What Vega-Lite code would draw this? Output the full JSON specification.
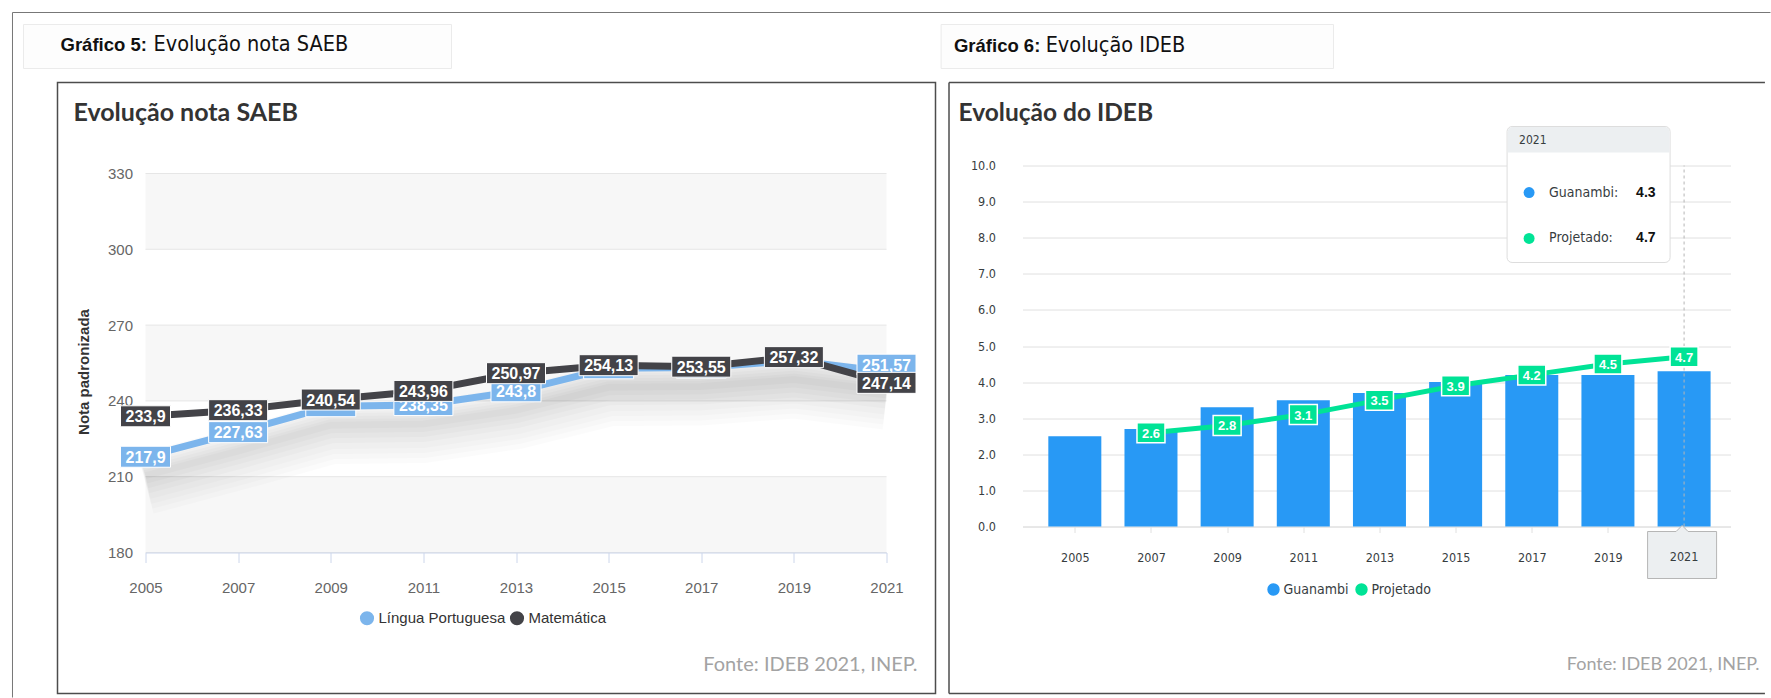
{
  "$schema": "https://vega.github.io/schema/vega-lite/v6.json",
  "background": "white",
  "padding": {"left": 11.5, "top": 11.5, "right": 0, "bottom": 0},
  "autosize": {"type": "pad"},
  "bounds": "flush",
  "spacing": 136,
  "config": {"view": {"stroke": null}, "font": "Liberation Sans"},
  "datasets": {
    "saeb": [
      {"ano": 2005, "disciplina": "Língua Portuguesa", "nota": 217.9},
      {"ano": 2007, "disciplina": "Língua Portuguesa", "nota": 227.63},
      {"ano": 2009, "disciplina": "Língua Portuguesa", "nota": 237.9},
      {"ano": 2011, "disciplina": "Língua Portuguesa", "nota": 238.35},
      {"ano": 2013, "disciplina": "Língua Portuguesa", "nota": 243.8},
      {"ano": 2015, "disciplina": "Língua Portuguesa", "nota": 252.9},
      {"ano": 2017, "disciplina": "Língua Portuguesa", "nota": 253.2},
      {"ano": 2019, "disciplina": "Língua Portuguesa", "nota": 256.0},
      {"ano": 2021, "disciplina": "Língua Portuguesa", "nota": 251.57},
      {"ano": 2005, "disciplina": "Matemática", "nota": 233.9},
      {"ano": 2007, "disciplina": "Matemática", "nota": 236.33},
      {"ano": 2009, "disciplina": "Matemática", "nota": 240.54},
      {"ano": 2011, "disciplina": "Matemática", "nota": 243.96},
      {"ano": 2013, "disciplina": "Matemática", "nota": 250.97},
      {"ano": 2015, "disciplina": "Matemática", "nota": 254.13},
      {"ano": 2017, "disciplina": "Matemática", "nota": 253.55},
      {"ano": 2019, "disciplina": "Matemática", "nota": 257.32},
      {"ano": 2021, "disciplina": "Matemática", "nota": 247.14}
    ],
    "faixas": [
      {"lo": 180, "hi": 210},
      {"lo": 240, "hi": 270},
      {"lo": 300, "hi": 330}
    ],
    "ideb": [
      {"ano": 2005, "serie": "Guanambi", "valor": 2.5},
      {"ano": 2007, "serie": "Guanambi", "valor": 2.7},
      {"ano": 2009, "serie": "Guanambi", "valor": 3.3},
      {"ano": 2011, "serie": "Guanambi", "valor": 3.5},
      {"ano": 2013, "serie": "Guanambi", "valor": 3.7},
      {"ano": 2015, "serie": "Guanambi", "valor": 4.0},
      {"ano": 2017, "serie": "Guanambi", "valor": 4.2},
      {"ano": 2019, "serie": "Guanambi", "valor": 4.2},
      {"ano": 2021, "serie": "Guanambi", "valor": 4.3},
      {"ano": 2007, "serie": "Projetado", "valor": 2.6},
      {"ano": 2009, "serie": "Projetado", "valor": 2.8},
      {"ano": 2011, "serie": "Projetado", "valor": 3.1},
      {"ano": 2013, "serie": "Projetado", "valor": 3.5},
      {"ano": 2015, "serie": "Projetado", "valor": 3.9},
      {"ano": 2017, "serie": "Projetado", "valor": 4.2},
      {"ano": 2019, "serie": "Projetado", "valor": 4.5},
      {"ano": 2021, "serie": "Projetado", "valor": 4.7}
    ]
  },
  "resolve": {"scale": {"x": "independent", "y": "independent", "color": "independent"}, "legend": {"color": "independent"}},
  "hconcat": [
    {
      "width": 741,
      "height": 387,
      "data": {"name": "saeb"},
      "transform": [
        {"calculate": "replace(format(datum.nota, '.2~f'), '.', ',')", "as": "rotulo"},
        {"calculate": "length(datum.rotulo)", "as": "len"}
      ],
      "layer": [
        {"data": {"values": [{}]}, "mark": {"type": "rect", "fill": "#fdfdfd", "stroke": "#ebebeb", "strokeWidth": 1},
          "encoding": {"x": {"datum": 2002.3657, "type": "quantitative"}, "x2": {"datum": 2011.6073}, "y": {"datum": 388.97, "type": "quantitative"}, "y2": {"datum": 371.56}}},
        {"data": {"values": [{}]}, "mark": {"type": "rect", "filled": false, "stroke": "#4d4d4d", "strokeWidth": 1.5},
          "encoding": {"x": {"datum": 2003.0999, "type": "quantitative"}, "x2": {"datum": 2022.0581}, "y": {"datum": 366.02, "type": "quantitative"}, "y2": {"datum": 124.2}}},
        {"data": {"values": [{}]}, "mark": {"type": "rule", "color": "#777777", "strokeWidth": 1},
          "encoding": {"x": {"datum": 2002.1282, "type": "quantitative"}, "x2": {"datum": 2040.0877}, "y": {"datum": 393.72, "type": "quantitative"}}},
        {"data": {"values": [{}]}, "mark": {"type": "rule", "color": "#777777", "strokeWidth": 1},
          "encoding": {"x": {"datum": 2002.1282, "type": "quantitative"}, "y": {"datum": 393.72, "type": "quantitative"}, "y2": {"datum": 122.61}}},
        {"data": {"name": "faixas"}, "mark": {"type": "rect", "fill": "#f7f7f7"},
          "encoding": {"x": {"datum": 2005, "type": "quantitative"}, "x2": {"datum": 2021}, "y": {"field": "lo", "type": "quantitative"}, "y2": {"field": "hi"}}},
        {"data": {"name": "faixas"}, "mark": {"type": "rule", "color": "#e6e6e6", "strokeWidth": 1},
          "encoding": {"x": {"datum": 2005, "type": "quantitative"}, "x2": {"datum": 2021}, "y": {"field": "lo", "type": "quantitative"}}},
        {"data": {"name": "faixas"}, "mark": {"type": "rule", "color": "#e6e6e6", "strokeWidth": 1},
          "encoding": {"x": {"datum": 2005, "type": "quantitative"}, "x2": {"datum": 2021}, "y": {"field": "hi", "type": "quantitative"}}},
        {"mark": {"type": "point", "shape": "circle", "filled": true, "size": 0, "opacity": 1},
          "encoding": {
            "x": {"field": "ano", "type": "quantitative",
              "scale": {"domain": [2005, 2021], "nice": false, "zero": false},
              "axis": {"values": [2005, 2007, 2009, 2011, 2013, 2015, 2017, 2019, 2021], "format": "d", "title": null, "grid": false, "zindex": 1, "labelFlush": false, "labelOverlap": false,
                "labelFontSize": 15, "labelColor": "#666666", "labelPadding": 18, "domainColor": "#ccd6eb", "tickColor": "#ccd6eb", "tickSize": 10}},
            "y": {"field": "nota", "type": "quantitative",
              "scale": {"domain": [180, 333.166], "nice": false, "zero": false},
              "axis": {"values": [180, 210, 240, 270, 300, 330], "title": "Nota padronizada", "grid": false, "domain": false, "ticks": false, "labelOverlap": false,
                "labelFontSize": 15, "labelColor": "#666666", "labelPadding": 13,
                "titleFontSize": 15, "titleFontWeight": "bold", "titleColor": "#333333", "titlePadding": 16, "titleY": 206}},
            "color": {"field": "disciplina", "type": "nominal",
              "scale": {"domain": ["Língua Portuguesa", "Matemática"], "range": ["#7cb5ec", "#434348"]},
              "legend": {"orient": "none", "legendX": 214, "legendY": 445, "direction": "horizontal", "title": null, "padding": 0,
                "symbolType": "circle", "symbolSize": 200, "symbolStrokeWidth": 0, "labelFontSize": 15, "labelColor": "#333333", "labelOffset": 4, "columnPadding": 4}}}},
        {"transform": [{"filter": "datum.disciplina == 'Língua Portuguesa'"}], "mark": {"type": "line", "color": "black", "strokeWidth": 62, "opacity": 0.014, "yOffset": 27},
          "encoding": {"x": {"field": "ano", "type": "quantitative"}, "y": {"field": "nota", "type": "quantitative"}}},
        {"transform": [{"filter": "datum.disciplina == 'Língua Portuguesa'"}], "mark": {"type": "line", "color": "black", "strokeWidth": 54, "opacity": 0.015, "yOffset": 26},
          "encoding": {"x": {"field": "ano", "type": "quantitative"}, "y": {"field": "nota", "type": "quantitative"}}},
        {"transform": [{"filter": "datum.disciplina == 'Língua Portuguesa'"}], "mark": {"type": "line", "color": "black", "strokeWidth": 46, "opacity": 0.016, "yOffset": 25},
          "encoding": {"x": {"field": "ano", "type": "quantitative"}, "y": {"field": "nota", "type": "quantitative"}}},
        {"transform": [{"filter": "datum.disciplina == 'Língua Portuguesa'"}], "mark": {"type": "line", "color": "black", "strokeWidth": 38, "opacity": 0.017, "yOffset": 24},
          "encoding": {"x": {"field": "ano", "type": "quantitative"}, "y": {"field": "nota", "type": "quantitative"}}},
        {"transform": [{"filter": "datum.disciplina == 'Língua Portuguesa'"}], "mark": {"type": "line", "color": "black", "strokeWidth": 30, "opacity": 0.018, "yOffset": 22},
          "encoding": {"x": {"field": "ano", "type": "quantitative"}, "y": {"field": "nota", "type": "quantitative"}}},
        {"transform": [{"filter": "datum.disciplina == 'Língua Portuguesa'"}], "mark": {"type": "line", "color": "black", "strokeWidth": 22, "opacity": 0.019, "yOffset": 21},
          "encoding": {"x": {"field": "ano", "type": "quantitative"}, "y": {"field": "nota", "type": "quantitative"}}},
        {"transform": [{"filter": "datum.disciplina == 'Língua Portuguesa'"}], "mark": {"type": "line", "color": "black", "strokeWidth": 14, "opacity": 0.02, "yOffset": 20},
          "encoding": {"x": {"field": "ano", "type": "quantitative"}, "y": {"field": "nota", "type": "quantitative"}}},
        {"transform": [{"filter": "datum.disciplina == 'Língua Portuguesa'"}], "mark": {"type": "line", "color": "black", "strokeWidth": 7, "opacity": 0.02, "yOffset": 19},
          "encoding": {"x": {"field": "ano", "type": "quantitative"}, "y": {"field": "nota", "type": "quantitative"}}},
        {"mark": {"type": "line", "strokeWidth": 7, "strokeCap": "round", "strokeJoin": "round"},
          "encoding": {"x": {"field": "ano", "type": "quantitative"}, "y": {"field": "nota", "type": "quantitative"}, "color": {"field": "disciplina", "type": "nominal", "legend": null}}},
        {"transform": [{"filter": "datum.disciplina == 'Língua Portuguesa' && datum.len == 6 && datum.ano != 2021"}],
          "mark": {"type": "point", "shape": "M-29.5,-10.5H29.5V10.5H-29.5Z", "size": 4, "filled": true, "opacity": 1, "fill": "#7cb5ec", "stroke": "white", "strokeWidth": 1},
          "encoding": {"x": {"field": "ano", "type": "quantitative"}, "y": {"field": "nota", "type": "quantitative"}}},
        {"transform": [{"filter": "datum.disciplina == 'Língua Portuguesa' && datum.ano == 2021"}],
          "mark": {"type": "point", "shape": "M-29.5,-10.5H29.5V10.5H-29.5Z", "size": 4, "filled": true, "opacity": 1, "fill": "#7cb5ec", "stroke": "white", "strokeWidth": 1, "yOffset": -7},
          "encoding": {"x": {"field": "ano", "type": "quantitative"}, "y": {"field": "nota", "type": "quantitative"}}},
        {"transform": [{"filter": "datum.disciplina == 'Língua Portuguesa' && datum.len == 5"}],
          "mark": {"type": "point", "shape": "M-25,-10.5H25V10.5H-25Z", "size": 4, "filled": true, "opacity": 1, "fill": "#7cb5ec", "stroke": "white", "strokeWidth": 1},
          "encoding": {"x": {"field": "ano", "type": "quantitative"}, "y": {"field": "nota", "type": "quantitative"}}},
        {"transform": [{"filter": "datum.disciplina == 'Língua Portuguesa' && indexof([2009, 2015, 2017, 2019, 2021], datum.ano) < 0"}],
          "mark": {"type": "text", "color": "white", "fontSize": 16, "fontWeight": "bold", "baseline": "middle", "dy": 1},
          "encoding": {"x": {"field": "ano", "type": "quantitative"}, "y": {"field": "nota", "type": "quantitative"}, "text": {"field": "rotulo"}}},
        {"transform": [{"filter": "datum.disciplina == 'Língua Portuguesa' && datum.ano == 2021"}],
          "mark": {"type": "text", "color": "white", "fontSize": 16, "fontWeight": "bold", "baseline": "middle", "dy": -6},
          "encoding": {"x": {"field": "ano", "type": "quantitative"}, "y": {"field": "nota", "type": "quantitative"}, "text": {"field": "rotulo"}}},
        {"transform": [{"filter": "datum.disciplina == 'Matemática' && datum.len == 6"}],
          "mark": {"type": "point", "shape": "M-29.5,-10.5H29.5V10.5H-29.5Z", "size": 4, "filled": true, "opacity": 1, "fill": "#434348", "stroke": "white", "strokeWidth": 1},
          "encoding": {"x": {"field": "ano", "type": "quantitative"}, "y": {"field": "nota", "type": "quantitative"}}},
        {"transform": [{"filter": "datum.disciplina == 'Matemática' && datum.len == 5"}],
          "mark": {"type": "point", "shape": "M-25,-10.5H25V10.5H-25Z", "size": 4, "filled": true, "opacity": 1, "fill": "#434348", "stroke": "white", "strokeWidth": 1},
          "encoding": {"x": {"field": "ano", "type": "quantitative"}, "y": {"field": "nota", "type": "quantitative"}}},
        {"transform": [{"filter": "datum.disciplina == 'Matemática'"}],
          "mark": {"type": "text", "color": "white", "fontSize": 16, "fontWeight": "bold", "baseline": "middle", "dy": 1},
          "encoding": {"x": {"field": "ano", "type": "quantitative"}, "y": {"field": "nota", "type": "quantitative"}, "text": {"field": "rotulo"}}},
        {"data": {"values": [{}]}, "mark": {"type": "text", "text": "Gráfico 5:", "font": "Liberation Sans", "fontWeight": "bold", "fontSize": 18.5, "align": "left", "baseline": "middle", "color": "#111111"},
          "encoding": {"x": {"datum": 2003.1646, "type": "quantitative"}, "y": {"datum": 380.66, "type": "quantitative"}}},
        {"data": {"values": [{}]}, "mark": {"type": "text", "text": "Evolução nota SAEB", "font": "DejaVu Sans Condensed, Liberation Sans, sans-serif", "fontSize": 21.5, "align": "left", "baseline": "middle", "color": "#111111"},
          "encoding": {"x": {"datum": 2005.1727, "type": "quantitative"}, "y": {"datum": 380.66, "type": "quantitative"}}},
        {"data": {"values": [{}]}, "mark": {"type": "text", "text": "Evolução nota SAEB", "font": "Lato", "fontWeight": "bold", "fontSize": 25, "align": "left", "baseline": "middle", "color": "#333333"},
          "encoding": {"x": {"datum": 2003.4453, "type": "quantitative"}, "y": {"datum": 353.75, "type": "quantitative"}}},
        {"data": {"values": [{}]}, "mark": {"type": "text", "text": "Fonte: IDEB 2021, INEP.", "font": "Lato", "fontSize": 20, "align": "right", "baseline": "middle", "color": "#a3a3a3"},
          "encoding": {"x": {"datum": 2021.6694, "type": "quantitative"}, "y": {"datum": 135.28, "type": "quantitative"}}}
      ]
    },
    {
      "width": 708,
      "height": 361,
      "data": {"name": "ideb"},
      "layer": [
        {"data": {"values": [{}]}, "mark": {"type": "rect", "fill": "#fdfdfd", "stroke": "#ebebeb", "strokeWidth": 1},
          "encoding": {"x": {"datum": 2001.489, "type": "quantitative"}, "x2": {"datum": 2011.7935}, "y": {"datum": 13.9058, "type": "quantitative"}, "y2": {"datum": 12.687}}},
        {"data": {"values": [{}]}, "mark": {"type": "rule", "color": "#4d4d4d", "strokeWidth": 1.5},
          "encoding": {"x": {"datum": 2001.696, "type": "quantitative"}, "x2": {"datum": 2023.123}, "y": {"datum": 12.2992, "type": "quantitative"}}},
        {"data": {"values": [{}]}, "mark": {"type": "rule", "color": "#4d4d4d", "strokeWidth": 1.5},
          "encoding": {"x": {"datum": 2001.696, "type": "quantitative"}, "x2": {"datum": 2023.123}, "y": {"datum": -4.626, "type": "quantitative"}}},
        {"data": {"values": [{}]}, "mark": {"type": "rule", "color": "#4d4d4d", "strokeWidth": 1.5},
          "encoding": {"x": {"datum": 2001.696, "type": "quantitative"}, "y": {"datum": 12.2992, "type": "quantitative"}, "y2": {"datum": -4.626}}},
        {"mark": {"type": "point", "shape": "circle", "filled": true, "size": 0, "opacity": 1},
          "encoding": {
            "x": {"field": "ano", "type": "quantitative",
              "scale": {"domain": [2003.7573, 2022.0874], "nice": false, "zero": false},
              "axis": {"values": [2005, 2007, 2009, 2011, 2013, 2015, 2017, 2019, 2021], "format": "d", "title": null, "grid": false, "labelFlush": false, "labelOverlap": false,
                "labelFontSize": 12.5, "labelFont": "DejaVu Sans Condensed, Liberation Sans, sans-serif", "labelColor": "#373d3f", "labelPadding": 19,
                "domainColor": "#e0e0e0", "tickColor": "#e0e0e0", "tickSize": 6}},
            "y": {"field": "valor", "type": "quantitative",
              "scale": {"domain": [0, 10], "nice": false, "zero": true},
              "axis": {"values": [0, 1, 2, 3, 4, 5, 6, 7, 8, 9, 10], "tickCount": 11, "format": ".1f", "title": null, "grid": true, "gridColor": "#e0e0e0", "domain": false, "ticks": false, "labelOverlap": false,
                "labelFontSize": 12.5, "labelFont": "DejaVu Sans Condensed, Liberation Sans, sans-serif", "labelColor": "#373d3f", "labelPadding": 27}},
            "color": {"field": "serie", "type": "nominal",
              "scale": {"domain": ["Guanambi", "Projetado"], "range": ["#2899f5", "#00e396"]},
              "legend": {"orient": "none", "legendX": 244, "legendY": 417, "direction": "horizontal", "title": null, "padding": 0,
                "symbolType": "circle", "symbolSize": 154, "symbolStrokeWidth": 0, "labelFontSize": 14, "labelFont": "DejaVu Sans Condensed, Liberation Sans, sans-serif", "labelColor": "#373d3f", "labelOffset": 3, "columnPadding": 6}}}},
        {"transform": [{"filter": "datum.serie == 'Guanambi'"}],
          "mark": {"type": "bar", "orient": "vertical", "width": 53},
          "encoding": {"x": {"field": "ano", "type": "quantitative"},
            "y": {"field": "valor", "type": "quantitative", "axis": {"values": [0, 1, 2, 3, 4, 5, 6, 7, 8, 9, 10], "tickCount": 11, "format": ".1f", "title": null, "grid": true, "gridColor": "#e0e0e0", "domain": false, "ticks": false, "labelOverlap": false,
                "labelFontSize": 12.5, "labelFont": "DejaVu Sans Condensed, Liberation Sans, sans-serif", "labelColor": "#373d3f", "labelPadding": 27}},
            "color": {"field": "serie", "type": "nominal", "legend": null}}},
        {"transform": [{"filter": "datum.serie == 'Projetado'"}],
          "mark": {"type": "line", "strokeWidth": 5},
          "encoding": {"x": {"field": "ano", "type": "quantitative"},
            "y": {"field": "valor", "type": "quantitative", "axis": {"values": [0, 1, 2, 3, 4, 5, 6, 7, 8, 9, 10], "tickCount": 11, "format": ".1f", "title": null, "grid": true, "gridColor": "#e0e0e0", "domain": false, "ticks": false, "labelOverlap": false,
                "labelFontSize": 12.5, "labelFont": "DejaVu Sans Condensed, Liberation Sans, sans-serif", "labelColor": "#373d3f", "labelPadding": 27}},
            "color": {"field": "serie", "type": "nominal", "legend": null}}},
        {"transform": [{"filter": "datum.serie == 'Guanambi' && datum.ano == 2021"}],
          "mark": {"type": "rule", "color": "#b6b6b6", "strokeWidth": 1, "strokeDash": [3, 3]},
          "encoding": {"x": {"field": "ano", "type": "quantitative"}, "y": {"datum": 0, "type": "quantitative"}, "y2": {"datum": 10}}},
        {"transform": [{"filter": "datum.serie == 'Projetado'"}],
          "mark": {"type": "point", "shape": "M-14,-10H14V10H-14Z", "size": 4, "filled": true, "opacity": 1, "fill": "#00e396", "stroke": "white", "strokeWidth": 1.5},
          "encoding": {"x": {"field": "ano", "type": "quantitative"}, "y": {"field": "valor", "type": "quantitative"}}},
        {"transform": [{"filter": "datum.serie == 'Projetado'"}],
          "mark": {"type": "text", "color": "white", "fontSize": 13, "fontWeight": "bold", "font": "Liberation Sans", "baseline": "middle", "dy": 1},
          "encoding": {"x": {"field": "ano", "type": "quantitative"}, "y": {"field": "valor", "type": "quantitative"}, "text": {"field": "valor", "type": "quantitative", "format": ".1f"}}},
        {"transform": [{"filter": "datum.serie == 'Guanambi' && datum.ano == 2021"}],
          "mark": {"type": "point", "shape": "M-76.5,-68H76.5A5,5,0,0,1,81.5,-63V63A5,5,0,0,1,76.5,68H-76.5A5,5,0,0,1,-81.5,63V-63A5,5,0,0,1,-76.5,-68Z", "size": 4, "filled": true, "opacity": 1, "fill": "white", "stroke": "#dddddd", "strokeWidth": 1, "xOffset": -95.5},
          "encoding": {"x": {"field": "ano", "type": "quantitative"}, "y": {"datum": 9.1967, "type": "quantitative"}}},
        {"transform": [{"filter": "datum.serie == 'Guanambi' && datum.ano == 2021"}],
          "mark": {"type": "point", "shape": "M-76,-12.5H76A5,5,0,0,1,81,-7.5V13H-81V-7.5A5,5,0,0,1,-76,-12.5Z", "size": 4, "filled": true, "opacity": 1, "fill": "#eceff1", "xOffset": -95.5},
          "encoding": {"x": {"field": "ano", "type": "quantitative"}, "y": {"datum": 10.7202, "type": "quantitative"}}},
        {"transform": [{"filter": "datum.serie == 'Guanambi' && datum.ano == 2021"}],
          "mark": {"type": "text", "align": "left", "baseline": "middle", "dx": -165, "fontSize": 12, "font": "DejaVu Sans Condensed, Liberation Sans, sans-serif", "color": "#373d3f"},
          "encoding": {"x": {"field": "ano", "type": "quantitative"}, "text": {"field": "ano", "type": "quantitative", "format": "d"}, "y": {"datum": 10.7202, "type": "quantitative"}}},
        {"transform": [{"filter": "datum.ano == 2021"}, {"calculate": "datum.serie == 'Guanambi' ? 9.252 : 7.978", "as": "ty"}],
          "mark": {"type": "point", "shape": "circle", "filled": true, "size": 120, "opacity": 1, "xOffset": -155},
          "encoding": {"x": {"field": "ano", "type": "quantitative"}, "y": {"field": "ty", "type": "quantitative"}, "color": {"field": "serie", "type": "nominal", "legend": null}}},
        {"transform": [{"filter": "datum.ano == 2021"}, {"calculate": "datum.serie == 'Guanambi' ? 9.252 : 7.978", "as": "ty"}, {"calculate": "datum.serie + ':'", "as": "rot"}],
          "mark": {"type": "text", "align": "left", "baseline": "middle", "dx": -135, "fontSize": 14, "font": "DejaVu Sans Condensed, Liberation Sans, sans-serif", "color": "#373d3f"},
          "encoding": {"x": {"field": "ano", "type": "quantitative"}, "y": {"field": "ty", "type": "quantitative"}, "text": {"field": "rot"}}},
        {"transform": [{"filter": "datum.ano == 2021"}, {"calculate": "datum.serie == 'Guanambi' ? 9.252 : 7.978", "as": "ty"}],
          "mark": {"type": "text", "align": "left", "baseline": "middle", "dx": -48, "fontSize": 14, "fontWeight": "bold", "font": "Liberation Sans", "color": "#111111"},
          "encoding": {"x": {"field": "ano", "type": "quantitative"}, "y": {"field": "ty", "type": "quantitative"}, "text": {"field": "valor", "type": "quantitative", "format": ".1f"}}},
        {"transform": [{"filter": "datum.serie == 'Guanambi' && datum.ano == 2021"}],
          "mark": {"type": "point", "shape": "M-34.5,-23.5H-6L0,-29.5L6,-23.5H34.5V23.5H-34.5Z", "size": 4, "filled": true, "opacity": 1, "fill": "#eceff1", "stroke": "#b6b6b6", "strokeWidth": 1, "xOffset": -2},
          "encoding": {"x": {"field": "ano", "type": "quantitative"}, "y": {"datum": -0.7895, "type": "quantitative"}}},
        {"transform": [{"filter": "datum.serie == 'Guanambi' && datum.ano == 2021"}],
          "mark": {"type": "text", "baseline": "middle", "fontSize": 12.5, "font": "DejaVu Sans Condensed, Liberation Sans, sans-serif", "color": "#373d3f"},
          "encoding": {"x": {"field": "ano", "type": "quantitative"}, "text": {"field": "ano", "type": "quantitative", "format": "d"}, "y": {"datum": -0.8587, "type": "quantitative"}}},
        {"data": {"values": [{}]}, "mark": {"type": "text", "text": "Gráfico 6:", "font": "Liberation Sans", "fontWeight": "bold", "fontSize": 18.5, "align": "left", "baseline": "middle", "color": "#111111"},
          "encoding": {"x": {"datum": 2001.826, "type": "quantitative"}, "y": {"datum": 13.324, "type": "quantitative"}}},
        {"data": {"values": [{}]}, "mark": {"type": "text", "text": "Evolução IDEB", "font": "DejaVu Sans Condensed, Liberation Sans, sans-serif", "fontSize": 21.5, "align": "left", "baseline": "middle", "color": "#111111"},
          "encoding": {"x": {"datum": 2004.234, "type": "quantitative"}, "y": {"datum": 13.324, "type": "quantitative"}}},
        {"data": {"values": [{}]}, "mark": {"type": "text", "text": "Evolução do IDEB", "font": "Lato", "fontWeight": "bold", "fontSize": 24.5, "align": "left", "baseline": "middle", "color": "#333333"},
          "encoding": {"x": {"datum": 2001.947, "type": "quantitative"}, "y": {"datum": 11.44, "type": "quantitative"}}},
        {"data": {"values": [{}]}, "mark": {"type": "text", "text": "Fonte: IDEB 2021, INEP.", "font": "Lato", "fontSize": 18, "align": "right", "baseline": "middle", "color": "#a3a3a3"},
          "encoding": {"x": {"datum": 2022.983, "type": "quantitative"}, "y": {"datum": -3.85, "type": "quantitative"}}}
      ]
    }
  ]
}
